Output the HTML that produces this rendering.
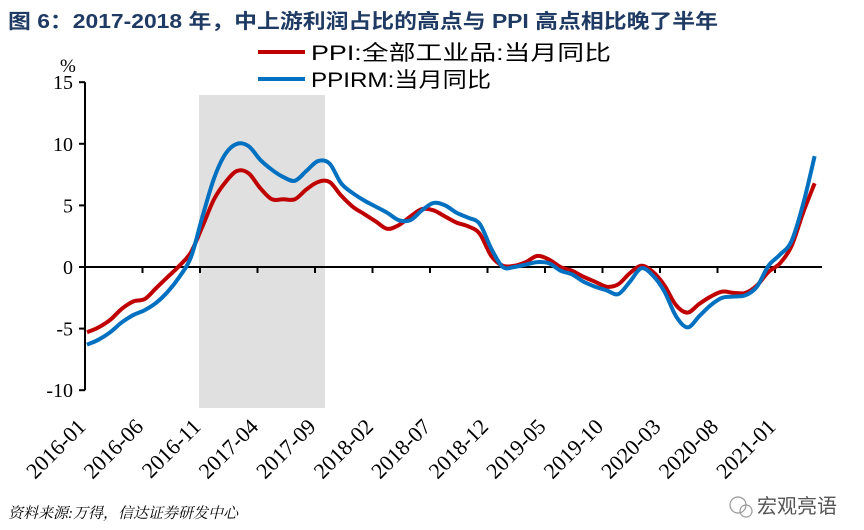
<!DOCTYPE html>
<html><head><meta charset="utf-8"><style>
body{margin:0;background:#fff;}
svg{display:block;}
</style></head><body>
<svg width="864" height="530" viewBox="0 0 864 530" xmlns="http://www.w3.org/2000/svg">
<text x="8" y="28" textLength="710" lengthAdjust="spacingAndGlyphs" font-family="Liberation Sans, Noto Sans CJK SC, sans-serif" font-weight="bold" font-size="20" fill="#1f3a63">图 6：2017-2018 年，中上游利润占比的高点与 PPI 高点相比晚了半年</text>
<rect x="199" y="95" width="126" height="313" fill="#e0e0e0"/>
<g id="axes"></g>
<g id="series"></g>
<g>
<line x1="258" y1="52" x2="305" y2="52" stroke="#c00000" stroke-width="4"/>
<text x="311" y="60" textLength="300" lengthAdjust="spacingAndGlyphs" font-family="Liberation Sans, Noto Sans CJK SC, sans-serif" font-size="21" fill="#000">PPI:全部工业品:当月同比</text>
<line x1="258" y1="79" x2="305" y2="79" stroke="#0070c0" stroke-width="4"/>
<text x="311" y="87" textLength="180" lengthAdjust="spacingAndGlyphs" font-family="Liberation Sans, Noto Sans CJK SC, sans-serif" font-size="21" fill="#000">PPIRM:当月同比</text>
</g>
<text x="60" y="72" font-family="Liberation Serif, serif" font-size="19">%</text>
<text x="8" y="518" font-family="Liberation Serif, Noto Serif CJK SC, serif" font-style="italic" font-size="15">资料来源:万得，信达证券研发中心</text>
<g>
<circle cx="738" cy="505" r="8" fill="none" stroke="#999" stroke-width="1.2"/>
<circle cx="746" cy="511" r="6" fill="none" stroke="#999" stroke-width="1.2"/>
<text x="757" y="513" font-family="Noto Sans CJK SC, sans-serif" font-size="20" fill="#555">宏观亮语</text>
</g>
</svg>
<script>
const categories=[];for(let y=2016;y<=2021;y++)for(let m=1;m<=12;m++){if(y===2021&&m>4)break;categories.push(y+'-'+String(m).padStart(2,'0'));}
const ppi=[-5.3,-4.9,-4.3,-3.4,-2.8,-2.6,-1.7,-0.8,0.1,1.2,3.3,5.5,
6.9,7.8,7.6,6.4,5.5,5.5,5.5,6.3,6.9,6.9,5.8,4.9,
4.3,3.7,3.1,3.4,4.1,4.7,4.6,4.1,3.6,3.3,2.7,0.9,
0.1,0.1,0.4,0.9,0.6,0.0,-0.3,-0.8,-1.2,-1.6,-1.4,-0.5,
0.1,-0.4,-1.5,-3.1,-3.7,-3.0,-2.4,-2.0,-2.1,-2.1,-1.5,-0.4,
0.3,1.7,4.4,6.8];
const ppirm=[-6.3,-5.9,-5.3,-4.5,-3.9,-3.5,-2.9,-2.0,-0.8,0.8,4.1,7.2,
9.2,10.0,9.8,8.7,7.9,7.3,7.0,7.8,8.6,8.4,6.8,6.0,
5.4,4.9,4.4,3.8,3.8,4.6,5.2,5.0,4.4,4.0,3.5,1.5,
0.0,0.0,0.2,0.4,0.3,-0.3,-0.6,-1.2,-1.6,-1.9,-2.2,-1.2,
-0.1,-0.7,-2.0,-4.0,-4.9,-4.0,-3.1,-2.5,-2.4,-2.3,-1.6,0.1,
1.0,2.1,5.1,9.0];
const yTicks=[15,10,5,0,-5,-10];
const xTickLabels=['2016-01','2016-06','2016-11','2017-04','2017-09','2018-02','2018-07','2018-12','2019-05','2019-10','2020-03','2020-08','2021-01'];

const NS='http://www.w3.org/2000/svg';
function xS(i){return 87+i*11.55;}
function yS(v){return 267-v*12.32;}
function mk(t,a,p){const e=document.createElementNS(NS,t);for(const k in a)e.setAttribute(k,a[k]);p.appendChild(e);return e;}
const axes=document.getElementById('axes');
let ya=mk('line',{x1:85,y1:yS(15),x2:85,y2:yS(-10),stroke:'#000','stroke-width':2},axes);


yTicks.forEach(v=>{
 let t=mk('line',{x1:79,y1:yS(v),x2:85,y2:yS(v),stroke:'#000','stroke-width':2},axes);
 
 
 let l=mk('text',{x:73,y:yS(v)+7,'text-anchor':'end','font-family':'Liberation Serif, serif','font-size':20},axes);
 l.textContent=v;
 
 
});
let xa=mk('line',{x1:85,y1:yS(0),x2:822,y2:yS(0),stroke:'#000','stroke-width':2},axes);


xTickLabels.forEach((s,k)=>{
 const tx=85+k*57.5;
 let t=mk('line',{x1:tx,y1:yS(0),x2:tx,y2:yS(0)+6,stroke:'#000','stroke-width':2},axes);
 
 
 let l=mk('text',{x:0,y:0,'text-anchor':'end','font-family':'Liberation Serif, serif','font-size':22,transform:`translate(${tx+2},${428}) rotate(-45)`},axes);
 l.textContent=s;
 
 
});
function smooth(vals){
 const p=vals.map((v,i)=>[xS(i),yS(v)]);
 let d='M'+p[0][0]+','+p[0][1];
 for(let i=0;i<p.length-1;i++){
  const p0=p[Math.max(i-1,0)],p1=p[i],p2=p[i+1],p3=p[Math.min(i+2,p.length-1)];
  const c1=[p1[0]+(p2[0]-p0[0])/6,p1[1]+(p2[1]-p0[1])/6];
  const c2=[p2[0]-(p3[0]-p1[0])/6,p2[1]-(p3[1]-p1[1])/6];
  d+=` C${c1[0]},${c1[1]} ${c2[0]},${c2[1]} ${p2[0]},${p2[1]}`;
 }
 return d;
}
const sg=document.getElementById('series');
let l1=mk('path',{d:smooth(ppi),fill:'none',stroke:'#c00000','stroke-width':4,'stroke-linejoin':'round'},sg);


let l2=mk('path',{d:smooth(ppirm),fill:'none',stroke:'#0070c0','stroke-width':4,'stroke-linejoin':'round'},sg);


</script>
</body></html>
